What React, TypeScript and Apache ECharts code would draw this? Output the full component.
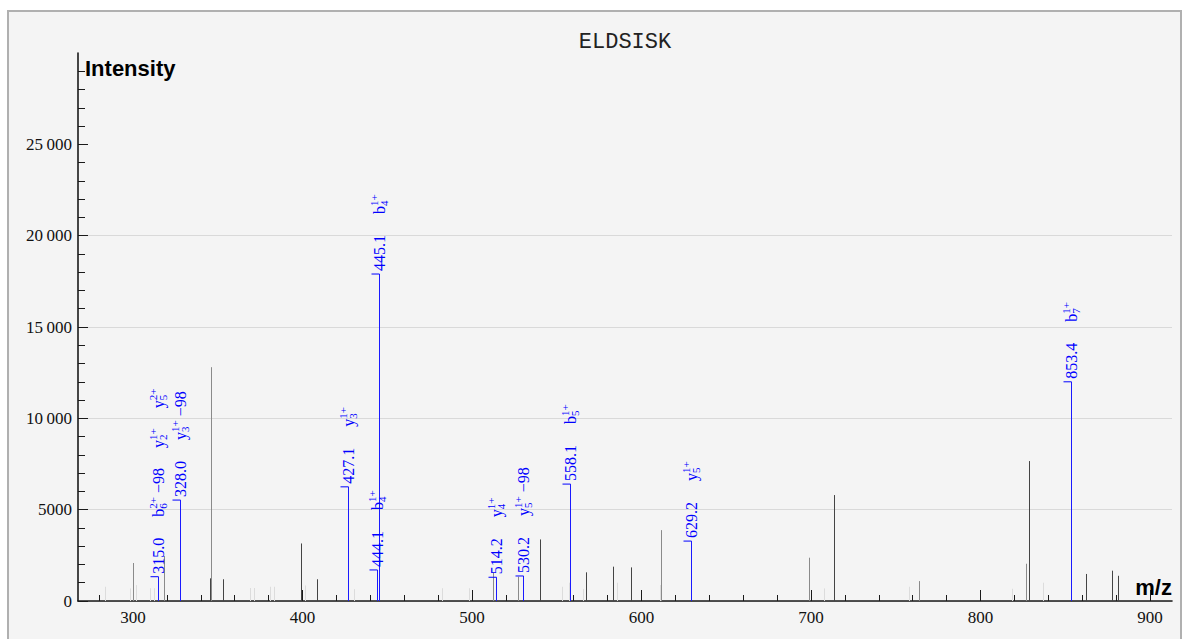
import React, { useEffect, useRef } from 'react';
import * as echarts from 'echarts';

const TITLE = 'ELDSISK';
const X_NAME = 'm/z';
const Y_NAME = 'Intensity';
const X_MIN = 267.55;
const X_MAX = 913;
const Y_MAX = 30000;

const xLabelValues = [300, 400, 500, 600, 700, 800, 900];
const xMinorTickValues = [280, 300, 320, 340, 360, 380, 400, 420, 440, 460, 480, 500, 520, 540, 560, 580, 600, 620, 640, 660, 680, 700, 720, 740, 760, 780, 800, 820, 840, 860, 880, 900];
const yLabelValues = [0, 5000, 10000, 15000, 20000, 25000];

// annotated (blue) peaks
const annotatedMz = [315.0, 328.0, 427.1, 444.1, 445.1, 514.2, 530.2, 558.1, 629.2, 853.4];
const annotatedIntensity = [1330, 5525, 6250, 1700, 17900, 1300, 1370, 6400, 3280, 12000];
// each ion: [letter, subscript, superscript, neutral loss]
const annotatedIons: string[][][] = [
  [['b', '6', '2+', '\u221298'], ['y', '2', '1+', ''], ['y', '5', '2+', '']],
  [['y', '3', '1+', '\u221298']],
  [['y', '3', '1+', '']],
  [['b', '4', '1+', '']],
  [['b', '4', '1+', '']],
  [['y', '4', '1+', '']],
  [['y', '5', '1+', '\u221298']],
  [['b', '5', '1+', '']],
  [['y', '5', '1+', '']],
  [['b', '7', '1+', '']],
];

// unannotated peaks, dark
const darkMz = [345.2, 353.1, 399.1, 408.6, 540.1, 567.3, 583.4, 593.6, 713.7, 828.8, 862.4, 877.8, 880.9];
const darkIntensity = [1240, 1190, 3150, 1190, 3370, 1570, 1880, 1840, 5800, 7660, 1480, 1660, 1380];
// unannotated peaks, mid grey
const midMz = [300.0, 318.3, 346.2, 512.4, 527.3, 611.5, 698.8, 763.7, 826.6];
const midIntensity = [2080, 2460, 12800, 1550, 1330, 3880, 2370, 1090, 2040];
// unannotated peaks, light grey
const lightMz = [283.7, 298.0, 302.0, 309.8, 312.2, 369.2, 371.2, 381.0, 383.2, 401.3, 430.4, 482.5, 498.4, 553.4, 557.5, 565.5, 585.4, 610.9, 707.7, 757.8, 818.8, 836.9];
const lightIntensity = [780, 690, 870, 700, 700, 710, 710, 780, 780, 850, 650, 700, 700, 780, 1000, 660, 1000, 875, 690, 780, 670, 1000];

const BLUE = '#0000ff';
const SERIF = '"Liberation Serif", "DejaVu Serif", serif';
const MAIN_FONT = `16px ${SERIF}`;
const SMALL_FONT = `11px ${SERIF}`;

let measureCtx: CanvasRenderingContext2D | null = null;
function measure(text: string, font: string): number {
  if (!text) return 0;
  if (!measureCtx) {
    measureCtx = document.createElement('canvas').getContext('2d');
  }
  if (!measureCtx) return text.length * 8;
  measureCtx.font = font;
  return measureCtx.measureText(text).width;
}

function txt(text: string, x: number, y: number, font: string) {
  return {
    type: 'text',
    x,
    y,
    style: {
      text,
      font,
      fill: BLUE,
      textAlign: 'left',
      textVerticalAlign: 'middle',
      align: 'left',
      verticalAlign: 'middle',
    },
  };
}

function peakRender(color: string) {
  return (params: any, api: any) => {
    const base = api.coord([api.value(0), 0]);
    const top = api.coord([api.value(0), api.value(1)]);
    const x = Math.round(base[0]) + 0.5;
    return {
      type: 'line',
      shape: { x1: x, y1: base[1], x2: x, y2: top[1] },
      style: { stroke: color, lineWidth: 1 },
      silent: true,
    };
  };
}

function annotationRender(params: any, api: any) {
  const i = params.dataIndex;
  const top = api.coord([api.value(0), api.value(1)]);
  const x = Math.round(top[0]) + 0.5;
  const y = top[1];
  const children: any[] = [];
  let cur = 3;
  const valText = annotatedMz[i].toFixed(1);
  children.push(txt(valText, cur, 0, MAIN_FONT));
  cur += measure(valText, MAIN_FONT) + 21;
  annotatedIons[i].forEach((ion, k) => {
    const [letter, sub, sup, loss] = ion;
    if (k > 0) cur += 20;
    children.push(txt(letter, cur, 0, MAIN_FONT));
    cur += measure(letter, MAIN_FONT);
    children.push(txt(sup, cur, -5.5, SMALL_FONT));
    children.push(txt(sub, cur, 4.5, SMALL_FONT));
    cur += Math.max(measure(sub, SMALL_FONT), measure(sup, SMALL_FONT));
    if (loss) {
      cur += 4;
      children.push(txt(loss, cur, 0, MAIN_FONT));
      cur += measure(loss, MAIN_FONT);
    }
  });
  return {
    type: 'group',
    silent: true,
    children: [
      { type: 'line', shape: { x1: x - 8, y1: y, x2: x, y2: y }, style: { stroke: BLUE, lineWidth: 1 } },
      { type: 'group', x, y, rotation: Math.PI / 2, children },
    ],
  };
}

function pairs(xs: number[], ys: number[]) {
  return xs.map((m, i) => [m, ys[i]]);
}

function yFormat(v: number): string {
  if (v >= 30000) return '';
  if (v >= 10000) {
    const th = Math.floor(v / 1000);
    const rest = String(v % 1000).padStart(3, '0');
    return `${th}\u2009${rest}`;
  }
  return String(v);
}

export default function App() {
  const ref = useRef<HTMLDivElement>(null);

  useEffect(() => {
    if (!ref.current) return;
    const chart = echarts.init(ref.current, undefined, { renderer: 'svg' });
    const axisColor = '#1a1a1a';
    const option: any = {
      animation: false,
      backgroundColor: 'transparent',
      grid: { left: 78, top: 53, width: 1094, height: 548, containLabel: false },
      xAxis: [
        {
          type: 'value',
          min: X_MIN,
          max: X_MAX,
          position: 'bottom',
          axisLine: { show: true, onZero: false, lineStyle: { color: axisColor, width: 1.6 } },
          axisTick: { show: true, inside: true, length: 11, customValues: xLabelValues, lineStyle: { color: axisColor, width: 1 } },
          axisLabel: {
            show: true,
            customValues: xLabelValues,
            margin: 8,
            color: '#111',
            fontFamily: SERIF,
            fontSize: 17,
            formatter: (v: number) => String(Math.round(v)),
          },
          splitLine: { show: false },
        },
        {
          type: 'value',
          min: X_MIN,
          max: X_MAX,
          position: 'bottom',
          axisLine: { show: false },
          axisTick: { show: true, inside: true, length: 6, customValues: xMinorTickValues, lineStyle: { color: axisColor, width: 1 } },
          axisLabel: { show: false },
          splitLine: { show: false },
        },
      ],
      yAxis: {
        type: 'value',
        min: 0,
        max: Y_MAX,
        interval: 5000,
        axisLine: { show: true, onZero: false, lineStyle: { color: axisColor, width: 1.6 } },
        axisTick: { show: true, inside: true, length: 10, customValues: yLabelValues, lineStyle: { color: axisColor, width: 1 } },
        minorTick: { show: true, splitNumber: 5, length: 7, lineStyle: { color: axisColor, width: 1 } },
        axisLabel: {
          show: true,
          customValues: yLabelValues,
          margin: 6,
          color: '#111',
          fontFamily: SERIF,
          fontSize: 17,
          formatter: yFormat,
        },
        splitLine: { show: true, showMaxLine: false, lineStyle: { color: '#d9d9d9', width: 1 } },
      },
      graphic: [
        {
          type: 'text',
          x: 625,
          y: 42,
          style: {
            text: TITLE,
            font: '22px "Liberation Mono", "DejaVu Sans Mono", monospace',
            fill: '#222',
            textAlign: 'center',
            textVerticalAlign: 'middle',
            align: 'center',
            verticalAlign: 'middle',
          },
        },
        {
          type: 'text',
          x: 85,
          y: 68,
          style: {
            text: Y_NAME,
            font: 'bold 22px "Liberation Sans", Arial, sans-serif',
            fill: '#000',
            textAlign: 'left',
            textVerticalAlign: 'middle',
            align: 'left',
            verticalAlign: 'middle',
          },
        },
        {
          type: 'text',
          x: 1172,
          y: 587,
          style: {
            text: X_NAME,
            font: 'bold 22px "Liberation Sans", Arial, sans-serif',
            fill: '#000',
            textAlign: 'right',
            textVerticalAlign: 'middle',
            align: 'right',
            verticalAlign: 'middle',
          },
        },
      ],
      series: [
        { type: 'custom', xAxisIndex: 0, yAxisIndex: 0, renderItem: peakRender('#dcdcdc'), data: pairs(lightMz, lightIntensity), z: 2 },
        { type: 'custom', xAxisIndex: 0, yAxisIndex: 0, renderItem: peakRender('#8a8a8a'), data: pairs(midMz, midIntensity), z: 3 },
        { type: 'custom', xAxisIndex: 0, yAxisIndex: 0, renderItem: peakRender('#444444'), data: pairs(darkMz, darkIntensity), z: 4 },
        { type: 'custom', xAxisIndex: 0, yAxisIndex: 0, renderItem: peakRender('#1a1aff'), data: pairs(annotatedMz, annotatedIntensity), z: 5 },
        { type: 'custom', xAxisIndex: 0, yAxisIndex: 0, renderItem: annotationRender, data: pairs(annotatedMz, annotatedIntensity), z: 6 },
      ],
    };
    chart.setOption(option);
    return () => {
      chart.dispose();
    };
  }, []);

  return (
    <div style={{ position: 'fixed', left: 0, top: 0, width: 1182, height: 639, overflow: 'hidden', background: '#fff' }}>
      <div
        style={{
          position: 'absolute',
          left: 7,
          top: 10,
          width: 1171,
          height: 700,
          border: '2px solid #b0b0b0',
          background: '#f4f4f4',
        }}
      />
      <div ref={ref} style={{ position: 'absolute', left: 0, top: 0, width: 1182, height: 639 }} />
    </div>
  );
}
